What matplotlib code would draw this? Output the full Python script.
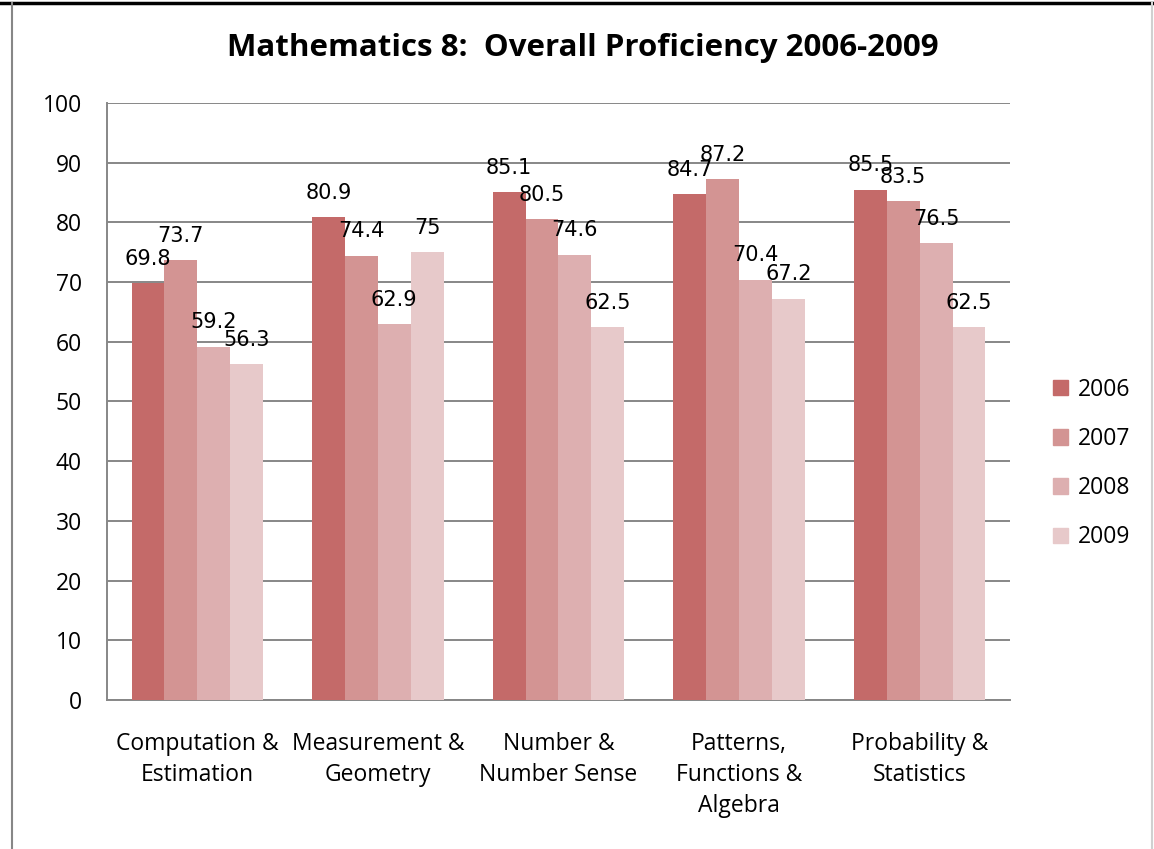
import matplotlib.pyplot as plt
import numpy as np
from matplotlib.patches import Rectangle
from matplotlib.lines import Line2D

categories = ["Computation &\nEstimation", "Measurement &\nGeometry",
              "Number &\nNumber Sense", "Patterns,\nFunctions &\nAlgebra",
              "Probability &\nStatistics"]
years = ["2006", "2007", "2008", "2009"]
values = {
    "2006": [69.8, 80.9, 85.1, 84.7, 85.5],
    "2007": [73.7, 74.4, 80.5, 87.2, 83.5],
    "2008": [59.2, 62.9, 74.6, 70.4, 76.5],
    "2009": [56.3, 75, 62.5, 67.2, 62.5],
}
colors = ["#C46A69", "#D39493", "#DDAFB0", "#E7C9CA"]

fig = plt.figure(figsize=(11.54, 8.49), dpi=100)
ax = fig.add_axes([0.0927, 0.1755, 0.7825, 0.7032])

x = np.arange(len(categories))
w = 0.182
for i, yr in enumerate(years):
    pos = x + (i - 1.5) * w
    ax.bar(pos, values[yr], width=w, color=colors[i], zorder=3, label=yr)
    for px, v in zip(pos, values[yr]):
        ax.text(px, v + 2.4, f"{v:g}", ha="center", va="bottom",
                fontsize=15, family="DejaVu Sans", zorder=4)

ax.set_xlim(-0.5, 4.5)
ax.set_ylim(0, 100)
ax.set_yticks(np.arange(0, 101, 10))
ax.yaxis.grid(True, color="#878787", linewidth=1.4, zorder=0)
for s in ["top", "right"]:
    ax.spines[s].set_visible(False)
for s in ["left", "bottom"]:
    ax.spines[s].set_color("#878787")
    ax.spines[s].set_linewidth(1.4)
ax.tick_params(axis="both", length=0, labelsize=16.5)
ax.tick_params(axis="y", pad=18)
ax.set_xticks(x)
ax.set_xticklabels(categories, family="Open Sans", linespacing=1.38, va="top")
ax.tick_params(axis="x", pad=23)
for lab in ax.get_yticklabels():
    lab.set_family("Open Sans")

fig.text(0.505, 0.943, "Mathematics 8:  Overall Proficiency 2006-2009",
         ha="center", va="center", fontsize=22.5, fontweight="bold",
         family="Open Sans")

handles = [Rectangle((0, 0), 1, 1, color=c) for c in colors]
fig.legend(handles, years, loc="center left", bbox_to_anchor=(0.895, 0.454),
           frameon=False, handlelength=0.65, handleheight=0.65,
           handletextpad=0.4, labelspacing=1.1,
           prop={"family": "Open Sans", "size": 16.5})

# outer frame lines
fig.add_artist(Line2D([0, 1], [0.9965, 0.9965], color="black", linewidth=2.5,
                      transform=fig.transFigure))
fig.add_artist(Line2D([0.0108, 0.0108], [0, 0.9965], color="#878787",
                      linewidth=1.5, transform=fig.transFigure))
fig.add_artist(Line2D([0.9985, 0.9985], [0, 0.9965], color="#D0D0D0",
                      linewidth=1.5, transform=fig.transFigure))

fig.savefig("out.png", dpi=100)
